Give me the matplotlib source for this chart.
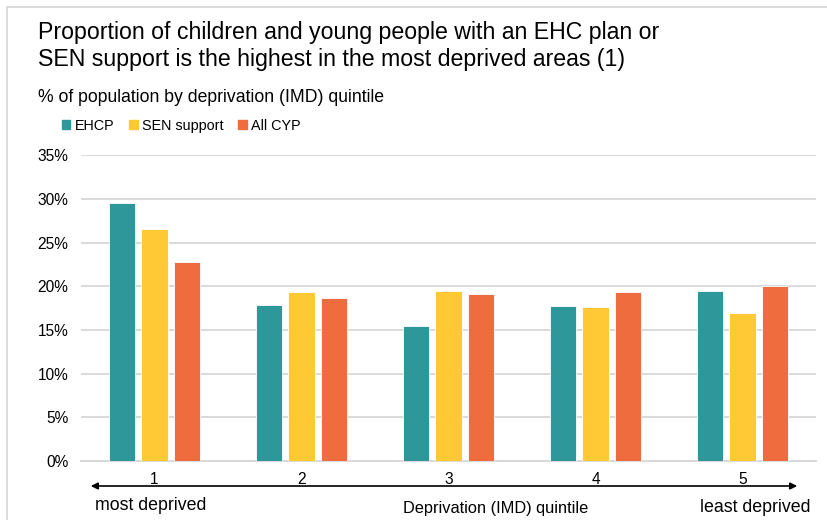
import numpy as np
import matplotlib.pyplot as plt
from matplotlib.patches import Rectangle, Patch, FancyArrowPatch
from matplotlib.ticker import PercentFormatter

plt.rcParams['font.family'] = ['Liberation Sans', 'DejaVu Sans']

# data
quintiles = ['1', '2', '3', '4', '5']
ehcp = [0.296, 0.179, 0.155, 0.178, 0.195]
sen_support = [0.266, 0.194, 0.195, 0.177, 0.169]
all_cyp = [0.228, 0.187, 0.191, 0.194, 0.201]
series_names = ['EHCP', 'SEN support', 'All CYP']
colors = ['#2E9799', '#FFC936', '#EF6C3F']

W, H = 827, 520
fig = plt.figure(figsize=(W / 100, H / 100), dpi=100)

# light frame round the whole chart
fig.patches.append(Rectangle((7 / W, -0.05), 1.1, 1 - 7 / H + 0.05,
                             transform=fig.transFigure, fill=False,
                             edgecolor='#D9D9D9', linewidth=1.3))

ax = fig.add_axes([81 / W, 1 - 461 / H, (816 - 81) / W, (461 - 155.5) / H])

x = np.arange(len(quintiles))
width = 0.177
step = 0.224
for i, (vals, name, c) in enumerate(zip([ehcp, sen_support, all_cyp], series_names, colors)):
    ax.bar(x + (i - 1) * step, vals, width, color=c, edgecolor='white',
           linewidth=0.6, label=name, zorder=3)

ax.set_xlim(-0.5, len(quintiles) - 0.5)
ax.set_ylim(0, 0.35)
ax.set_yticks(np.arange(0, 0.351, 0.05))
ax.yaxis.set_major_formatter(PercentFormatter(1.0, decimals=0))
ax.set_xticks(x)
ax.set_xticklabels(quintiles)
ax.grid(axis='y', color='#D9D9D9', linewidth=1.4, zorder=0)
ax.tick_params(axis='both', length=0, labelsize=11.2, colors='#000000')
ax.tick_params(axis='x', pad=8)
ax.tick_params(axis='y', pad=9)
for s in ['top', 'right', 'left']:
    ax.spines[s].set_visible(False)
ax.spines['bottom'].set_color('#D9D9D9')
ax.spines['bottom'].set_linewidth(1.4)

# titles
fig.text(38 / W, 1 - 21 / H,
         'Proportion of children and young people with an EHC plan or\n'
         'SEN support is the highest in the most deprived areas (1)',
         fontsize=16.7, va='top', ha='left', linespacing=1.2)
fig.text(38 / W, 1 - 97 / H, '% of population by deprivation (IMD) quintile',
         fontsize=12.7, va='center', ha='left')

handles = [Patch(color=c, label=n) for c, n in zip(colors, series_names)]
fig.legend(handles=handles, loc='center left', bbox_to_anchor=(56 / W, 1 - 126 / H),
           ncol=3, frameon=False, fontsize=10.4, handlelength=0.6, handleheight=0.6,
           handletextpad=0.3, columnspacing=1.0, borderaxespad=0)

# direction arrow under the axis
fig.patches.append(FancyArrowPatch(
    (88 / W, 1 - 486 / H), (800 / W, 1 - 486 / H), transform=fig.transFigure,
    arrowstyle='<|-|>', mutation_scale=10, color='black', linewidth=1.2))

fig.text(95 / W, 1 - 506 / H, 'most deprived', fontsize=12.8, ha='left', va='center')
fig.text(496 / W, 1 - 508 / H, 'Deprivation (IMD) quintile', fontsize=11.8,
         ha='center', va='center')
fig.text(810 / W, 1 - 507 / H, 'least deprived', fontsize=12.8, ha='right', va='center')

fig.savefig('out.png', dpi=100)
